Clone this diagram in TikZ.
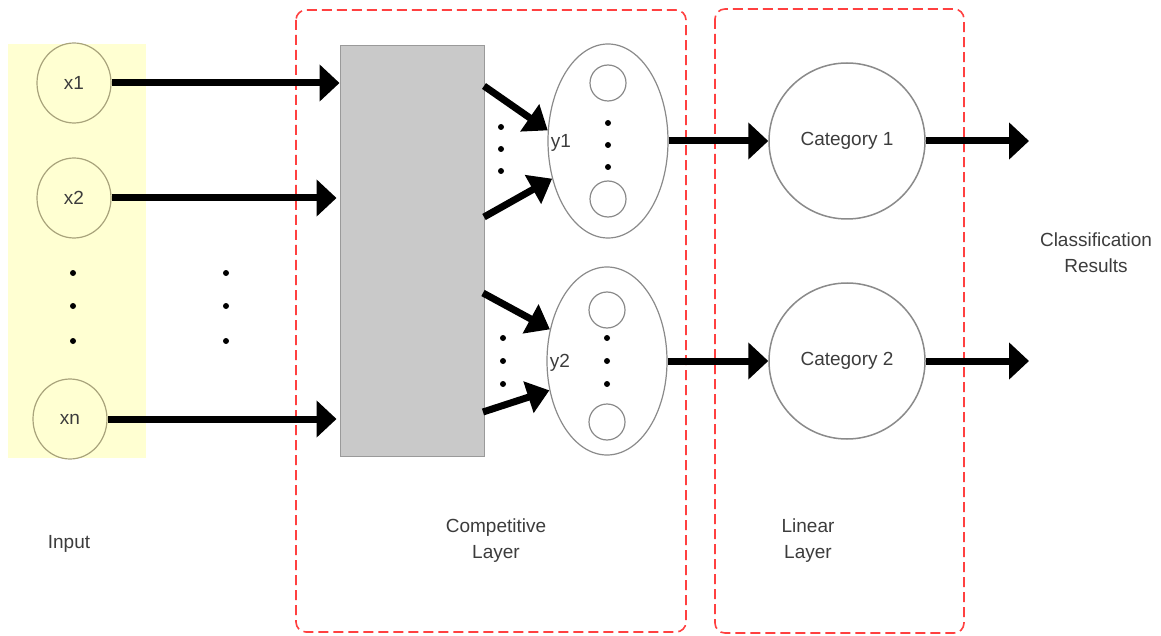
\documentclass[tikz,border=0pt]{standalone}
\usepackage{fontspec}
\setmainfont{Liberation Sans}
\usetikzlibrary{shapes.geometric,arrows.meta}
\definecolor{txt}{HTML}{3C3C3C}
\definecolor{inputbg}{HTML}{FFFFD2}
\definecolor{inputring}{HTML}{A9A47C}
\definecolor{ring}{HTML}{8A8A8A}
\definecolor{boxgray}{HTML}{C9C9C9}
\definecolor{boxedge}{HTML}{9A9A9A}
\definecolor{layerred}{HTML}{FF4040}
\tikzset{
  lbl/.style={font=\fontsize{19}{26}\selectfont, text=txt, align=center, inner sep=0pt},
  innode/.style={ellipse, draw=inputring, line width=1.2pt, minimum width=74pt, minimum height=80pt, inner sep=0pt, lbl},
  groupnode/.style={ellipse, draw=ring, line width=1.2pt, minimum width=120pt, minimum height=194pt, inner sep=0pt},
  unit/.style={circle, draw=ring, line width=1.2pt, minimum size=36pt, inner sep=0pt},
  catnode/.style={circle, draw=ring, line width=1.5pt, minimum size=156pt, inner sep=0pt, lbl},
  bigarrow/.style={line width=7pt, -{Triangle[length=20pt,width=36pt]}},
  diagarrow/.style={line width=7pt, -{Triangle[length=22pt,width=32pt]}},
  layerbox/.style={draw=layerred, line width=1.6pt, dash pattern=on 10pt off 5pt, rounded corners=10pt},
  dotmark/.style={circle, fill=black, minimum size=6pt, inner sep=0pt}
}
\begin{document}
\begin{tikzpicture}[x=1pt,y=-1pt]
\useasboundingbox (0,0) rectangle (1161,636);

% input strip
\fill[inputbg] (8,44) rectangle (146,458);
\node[innode] (x1) at (74,83) {x1};
\node[innode] (x2) at (74,198) {x2};
\node[innode] (xn) at (70,419) {xn};
\foreach \yy [count=\i] in {273,306,341} {
  \node[dotmark] (din\i) at (73,\yy) {};
  \node[dotmark] (dmid\i) at (226,\yy) {};
}

% layer frames
\draw[layerbox] (296,10) rectangle (686,632);
\draw[layerbox] (715,9) rectangle (964,633);

% competitive layer
\node[draw=boxedge, fill=boxgray, line width=1pt, minimum width=144pt, minimum height=410pt, inner sep=0pt] (gbox) at (412,251) {};

\node[groupnode] (y1) at (608,141) {};
\node[unit] (u11) at (608,83) {};
\node[unit] (u12) at (608,199) {};
\node[lbl] (y1lbl) at (561,143) {y1};
\node[groupnode, minimum height=188pt] (y2) at (607,361) {};
\node[unit] (u21) at (607,310) {};
\node[unit] (u22) at (607,422) {};
\node[lbl] (y2lbl) at (560,363) {y2};

\foreach \yy [count=\i] in {123,145,167} {
  \node[dotmark] (dy1in\i) at (608,\yy) {};
  \node[dotmark] (dy1gap\i) at (501,\yy+4) {};
}
\foreach \yy [count=\i] in {338,361,384} {
  \node[dotmark] (dy2in\i) at (607,\yy) {};
  \node[dotmark] (dy2gap\i) at (503,\yy) {};
}

% input connections
\draw[bigarrow] (x1.east) -- (gbox.west |- x1.east);
\draw[bigarrow, shorten >=3pt] (x2.east) -- (gbox.west |- x2.east);
\draw[bigarrow, shorten >=3pt] (xn.east) -- (gbox.west |- xn.east);

% box to groups
\coordinate (t11) at (484,86);
\coordinate (t12) at (484,217);
\coordinate (t21) at (483,293);
\coordinate (t22) at (483,412);
\draw[diagarrow] (t11) -- (y1.170);
\draw[diagarrow] (t12) -- (y1.214);
\draw[diagarrow] (t21) -- (y2.151);
\draw[diagarrow] (t22) -- (y2.207);

% linear layer
\node[catnode] (c1) at (847,141) {Category 1};
\node[catnode] (c2) at (847,361) {Category 2};
\draw[bigarrow] (y1.east) -- (c1.west);
\draw[bigarrow] (y2.east) -- (c2.west);
\coordinate (o1) at (1029,141);
\coordinate (o2) at (1029,361);
\draw[bigarrow] (c1.east) -- (o1);
\draw[bigarrow] (c2.east) -- (o2);

% captions
\node[lbl] (res) at (1096,253) {Classification\\Results};
\node[lbl] (inp) at (69,544) {Input};
\node[lbl] (comp) at (496,541) {Competitive\\Layer};
\node[lbl] (lin) at (808,541) {Linear\\Layer};
\end{tikzpicture}
\end{document}
